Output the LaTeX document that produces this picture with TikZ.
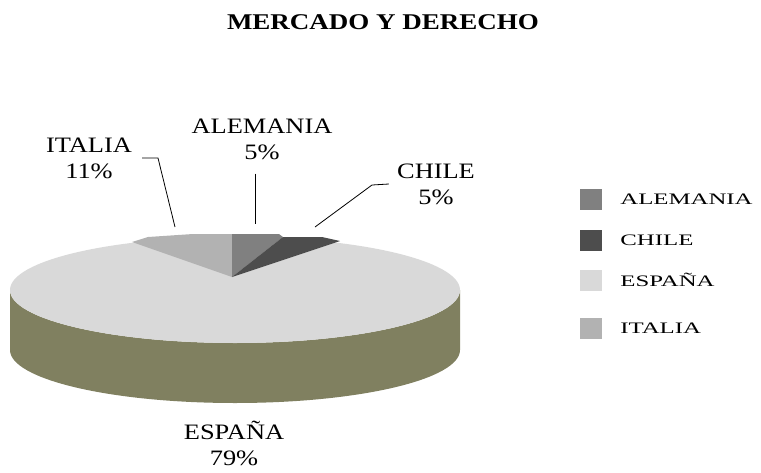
\documentclass[tikz,border=0pt]{standalone}
\usepackage{fontspec}
\setmainfont{Liberation Serif}[FakeStretch=1.2]
\newfontfamily\legendfont{Liberation Serif}[FakeStretch=1.55]
\usepackage{tikz}
\usetikzlibrary{calc, positioning}
\definecolor{alemaniagray}{HTML}{808080}
\definecolor{chilegray}{HTML}{4D4D4D}
\definecolor{espanagray}{HTML}{D9D9D9}
\definecolor{italiagray}{HTML}{B2B2B2}
\definecolor{sideolive}{HTML}{808060}

\begin{document}
\begin{tikzpicture}[x=1pt, y=-1pt,
        pielabel/.style={align=center, font=\fontsize{22}{26}\selectfont, inner sep=0pt},
        leader/.style={draw, line width=0.8pt},
        legendbox/.style={rectangle, minimum width=22pt, minimum height=21pt, inner sep=0pt},
        legendtext/.style={font=\legendfont\fontsize{16}{20}\selectfont, inner sep=0pt}
    ]
        \useasboundingbox (0,0) rectangle (761,472);

        % Title
        \node[font=\bfseries\fontsize{22.5}{26}\selectfont] (title) at (383,22) {MERCADO Y DERECHO};

        % Pie side and top face
        \fill[sideolive] (10,290) -- (10,350) arc[start angle=180, end angle=0, x radius=225, y radius=53]
            -- (460,290) arc[start angle=0, end angle=180, x radius=225, y radius=53] -- cycle;
        \fill[espanagray] (235,290) ellipse[x radius=225, y radius=53];

        % Small slices
        \coordinate (apex) at (232,277);
        \fill[italiagray] (apex) -- (132,242) -- (148,237) -- (193,234) -- (232,234) -- cycle;
        \fill[alemaniagray] (apex) -- (232,234) -- (279,234) -- (283,237) -- cycle;
        \fill[chilegray] (apex) -- (283,237) -- (322,237) -- (340,241) -- cycle;

        % Labels
        \node[pielabel] (italia_lbl) at (89,158) {ITALIA\\11\%};
        \node[pielabel] (ale_lbl) at (262,139) {ALEMANIA\\5\%};
        \node[pielabel] (chile_lbl) at (436,184) {CHILE\\5\%};
        \node[pielabel] (espana_lbl) at (234,443) {ESPAÑA\\79\%};

        % Leader lines
        \coordinate (italia_elbow) at (158,158);
        \coordinate (italia_tip) at (175,227);
        \coordinate (ale_tip) at (255,224);
        \coordinate (chile_elbow) at (372,185);
        \coordinate (chile_tip) at (315,227);
        \draw[leader] ([xshift=10pt]italia_lbl.east) -- (italia_elbow) -- (italia_tip);
        \draw[leader] (ale_lbl.south -| ale_tip) ++(0,14) -- (ale_tip);
        \draw[leader] ([xshift=-8pt]chile_lbl.west) -- (chile_elbow) -- (chile_tip);

        % Legend
        \node[legendbox, fill=alemaniagray] (ale_box) at (591,199) {};
        \node[legendbox, fill=chilegray] (chile_box) at (591,240) {};
        \node[legendbox, fill=espanagray] (espana_box) at (591,280) {};
        \node[legendbox, fill=italiagray] (italia_box) at (591,328) {};
        \node[legendtext, right=18pt of ale_box] (ale_txt) {ALEMANIA};
        \node[legendtext, right=18pt of chile_box] (chile_txt) {CHILE};
        \node[legendtext, right=18pt of espana_box] (espana_txt) {ESPAÑA};
        \node[legendtext, right=18pt of italia_box] (italia_txt) {ITALIA};
    \end{tikzpicture}
\end{document}
